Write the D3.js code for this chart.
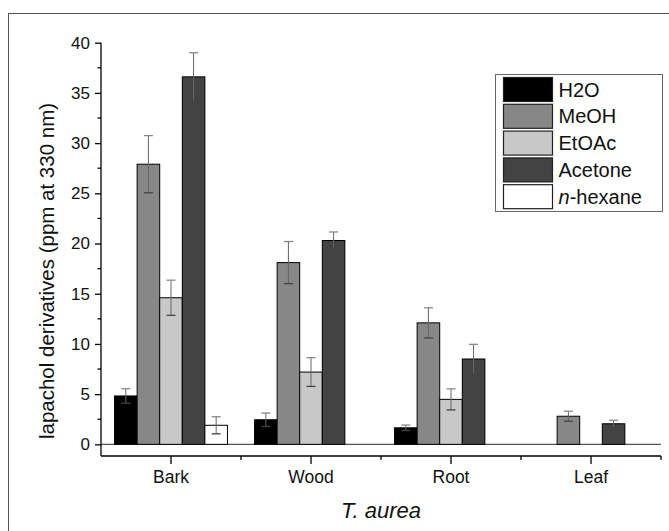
<!DOCTYPE html>
<html>
<head>
<meta charset="utf-8">
<script src="https://cdn.jsdelivr.net/npm/d3@7"></script>
<style>
  body { margin: 0; background: #fff; }
  svg { display: block; font-family: 'Liberation Sans', Arial, sans-serif; }
</style>
</head>
<body>
<div class="chart"></div>
<script>
// values
const categories = ['Bark', 'Wood', 'Root', 'Leaf']
const seriesNames = ['H2O', 'MeOH', 'EtOAc', 'Acetone', 'n-hexane']
const seriesColors = ['#000000', '#878787', '#c8c8c8', '#434343', '#ffffff']
const h2o = [4.82, 2.45, 1.65, null]
const meoh = [27.9, 18.1, 12.1, 2.8]
const etoac = [14.6, 7.2, 4.48, null]
const acetone = [36.6, 20.3, 8.5, 2.05]
const hexane = [1.9, null, null, null]
const h2oErr = [0.72, 0.67, 0.27, null]
const meohErr = [2.85, 2.1, 1.5, 0.5]
const etoacErr = [1.75, 1.43, 1.05, null]
const acetoneErr = [2.4, 0.85, 1.46, 0.35]
const hexaneErr = [0.85, null, null, null]
const yTicks = [0, 5, 10, 15, 20, 25, 30, 35, 40]

const values = [h2o, meoh, etoac, acetone, hexane]
const errors = [h2oErr, meohErr, etoacErr, acetoneErr, hexaneErr]

const width = 669, height = 531
const plotLeft = 101, plotRight = 661, plotTop = 42.7, plotBottom = 456

const svg = d3.select('.chart').append('svg')
    .attr('width', width)
    .attr('height', height)

// outer frame
svg.append('rect')
    .attr('x', 8.5).attr('y', 13.5)
    .attr('width', 700).attr('height', 600)
    .attr('fill', 'none').attr('stroke', '#555')

const x = d3.scaleBand().domain(categories).range([plotLeft, plotRight])
const xs = d3.scaleBand().domain(seriesNames).range([0, x.bandwidth()]).paddingOuter(0.6)
const y = d3.scaleLinear().domain([-1.16, 40]).range([plotBottom, plotTop])

// flatten to bars
const bars = []
seriesNames.forEach((s, i) => {
    categories.forEach((c, j) => {
        if (values[i][j] != null) bars.push({ s, c, i, v: values[i][j], e: errors[i][j] })
    })
})

// zero line
svg.append('line')
    .attr('x1', plotLeft).attr('x2', plotRight)
    .attr('y1', y(0)).attr('y2', y(0))
    .attr('stroke', '#555').attr('stroke-width', 1.2)

const bar = svg.append('g').selectAll('g')
    .data(bars)
    .enter()
    .append('g')

bar.append('rect')
    .attr('x', d => x(d.c) + xs(d.s))
    .attr('y', d => y(d.v))
    .attr('width', xs.bandwidth())
    .attr('height', d => y(0) - y(d.v))
    .attr('fill', d => seriesColors[d.i])
    .attr('stroke', '#000')
    .attr('stroke-width', 1)

// error bars
const cx = d => x(d.c) + xs(d.s) + xs.bandwidth() / 2
bar.append('line')
    .attr('x1', cx).attr('x2', cx)
    .attr('y1', d => y(d.v + d.e)).attr('y2', d => y(d.v - d.e))
    .attr('stroke', '#666')
bar.append('line')
    .attr('x1', d => cx(d) - 4.5).attr('x2', d => cx(d) + 4.5)
    .attr('y1', d => y(d.v + d.e)).attr('y2', d => y(d.v + d.e))
    .attr('stroke', '#888').attr('stroke-width', 1.3)
bar.append('line')
    .attr('x1', d => cx(d) - 4.5).attr('x2', d => cx(d) + 4.5)
    .attr('y1', d => y(d.v - d.e)).attr('y2', d => y(d.v - d.e))
    .attr('stroke', '#444').attr('stroke-width', 1.3)

// y axis
const yAxis = svg.append('g')
    .attr('transform', `translate(${plotLeft},0)`)
    .call(d3.axisLeft(y).tickValues(yTicks).tickSize(6).tickPadding(5))
yAxis.select('.domain').attr('d', `M0,${plotTop}V${plotBottom}`).attr('stroke', '#000').attr('stroke-width', 1.3)
yAxis.selectAll('.tick line').attr('stroke-width', 1.3)
yAxis.selectAll('.tick text').attr('font-size', 17).attr('font-family', 'Liberation Sans, Arial, sans-serif').attr('fill', '#111')
yAxis.selectAll('.minor')
    .data(yTicks.slice(0, -1).map(t => t + 2.5))
    .enter().append('line')
    .attr('class', 'minor')
    .attr('x1', -3.5).attr('x2', 0)
    .attr('y1', d => y(d)).attr('y2', d => y(d))
    .attr('stroke', '#000').attr('stroke-width', 1.3)

// x axis
const xAxis = svg.append('g')
    .attr('transform', `translate(0,${plotBottom})`)
    .call(d3.axisBottom(x).tickSize(8).tickPadding(7))
xAxis.select('.domain').attr('d', `M${plotLeft},0H${plotRight}`).attr('stroke', '#000').attr('stroke-width', 1.3)
xAxis.selectAll('.tick line').attr('stroke-width', 1.3)
xAxis.selectAll('.tick text').attr('font-size', 17.5).attr('font-family', 'Liberation Sans, Arial, sans-serif').attr('fill', '#111')
xAxis.selectAll('.minor')
    .data(categories.slice(1).map(c => x(c)).concat([plotRight]))
    .enter().append('line')
    .attr('class', 'minor')
    .attr('x1', d => d).attr('x2', d => d)
    .attr('y1', 0).attr('y2', 4)
    .attr('stroke', '#000').attr('stroke-width', 1.3)

// axis titles
svg.append('text')
    .attr('transform', `translate(54,${271}) rotate(-90)`)
    .attr('text-anchor', 'middle')
    .attr('font-size', 20.5)
    .attr('fill', '#111')
    .text('lapachol derivatives (ppm at 330 nm)')

svg.append('text')
    .attr('x', (plotLeft + plotRight) / 2)
    .attr('y', 518)
    .attr('text-anchor', 'middle')
    .attr('font-size', 22)
    .attr('font-style', 'italic')
    .attr('fill', '#111')
    .text('T. aurea')

// legend
const legend = svg.append('g').attr('transform', 'translate(495.5,74.5)')
legend.append('rect')
    .attr('width', 167).attr('height', 137)
    .attr('fill', '#fff').attr('stroke', '#666')
const item = legend.selectAll('.item')
    .data(seriesNames)
    .enter().append('g')
    .attr('class', 'item')
    .attr('transform', (d, i) => `translate(8,${3 + i * 26.8})`)
item.append('rect')
    .attr('width', 49).attr('height', 24)
    .attr('fill', (d, i) => seriesColors[i])
    .attr('stroke', '#222').attr('stroke-width', 1.2)
const label = item.append('text')
    .attr('x', 55).attr('y', 19)
    .attr('font-size', 20)
    .attr('fill', '#111')
label.filter(d => d !== 'n-hexane').text(d => d)
label.filter(d => d === 'n-hexane').each(function () {
    const t = d3.select(this)
    t.append('tspan').attr('font-style', 'italic').text('n')
    t.append('tspan').text('-hexane')
})
</script>
</body>
</html>
